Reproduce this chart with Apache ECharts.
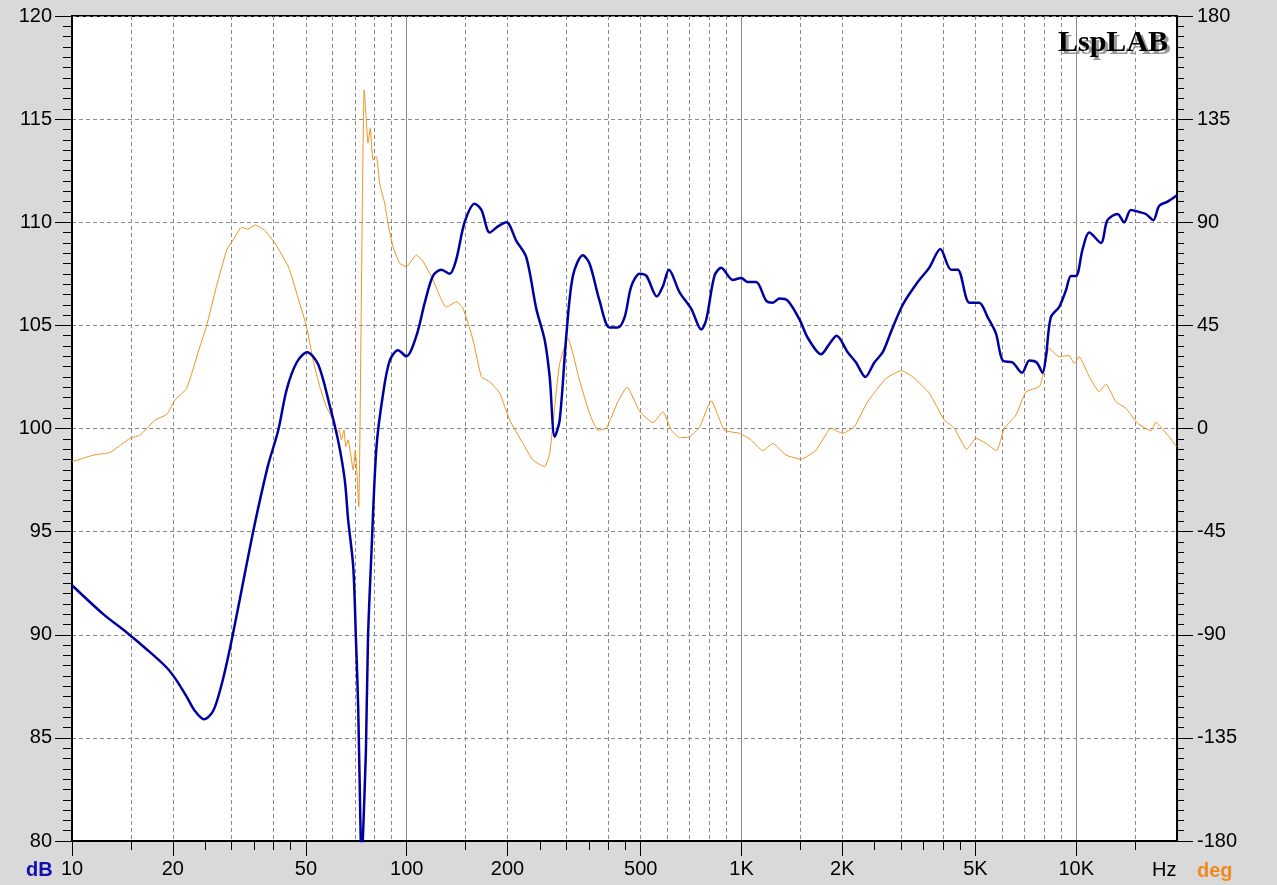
<!DOCTYPE html>
<html>
<head>
<meta charset="utf-8">
<title>LspLAB response</title>
<script src="https://cdn.jsdelivr.net/npm/echarts@6/dist/echarts.min.js"></script>
<style>
  html, body { margin: 0; padding: 0; background: #d9d9d9; }
  #chart { width: 1277px; height: 885px; }
</style>
</head>
<body>
<div id="chart"></div>
<script>
// Magnitude (dB)
var splFreq = [10, 12.4, 14.6, 16.7, 19.2, 20.5, 22, 23.3, 24.8, 26.4, 28, 29.6, 31.7, 33.6, 35.5, 38.5, 41.3, 43.8, 46.9, 50.4,
  54.4, 58.9, 62.4, 65.3, 66.8, 69.2, 70.5, 71.6, 72.8, 73.4, 73.9, 75.5, 76.6, 78.5, 81.2, 85, 89, 94.2, 99.7,
  106.9, 113.2, 119.8, 126.9, 134.3, 140.6, 148.9, 159.6, 167.1, 177, 187.3, 198.5, 212.5, 227.6, 243.8, 258.2, 267.3,
  276.7, 286.3, 299.7, 313.6, 335.8, 351.6, 376.6, 403.5, 427.4, 447.6, 468.8, 496.5, 520, 558.9, 582.4, 607.1, 653.3,
  708, 758.6, 785.3, 830.4, 869.6, 941.6, 998, 1044, 1106, 1185, 1240, 1299, 1374, 1489, 1577, 1729, 1831, 1924, 2076,
  2199, 2344, 2494, 2642, 2799, 3033, 3361, 3640, 3926, 4226, 4424, 4797, 5130, 5435, 5759, 6029, 6457, 6890, 7244,
  7622, 7931, 8120, 8400, 8897, 9316, 9645, 9985, 10450, 10937, 11847, 12397, 13280, 13903, 14555, 15410, 16140,
  16985, 17700, 18750, 19950];
var splDb = [92.4, 91.0, 90.1, 89.3, 88.4, 87.8, 87.0, 86.3, 85.9, 86.3, 87.6, 89.3, 91.7, 93.8, 95.7, 98.2, 99.9, 101.9, 103.2, 103.7,
  103.1, 101.1, 99.4, 97.5, 95.6, 93.3, 89.8, 86.5, 80.4, 78.5, 80.0, 84.3, 89.8, 94.1, 99.1, 101.7, 103.3, 103.8, 103.5,
  104.5, 106.1, 107.4, 107.7, 107.5, 108.2, 110.0, 110.9, 110.6, 109.5, 109.8, 110.0, 109.1, 108.3, 105.8, 104.3, 102.5,
  99.6, 100.4, 104.5, 107.4, 108.4, 108.0, 106.2, 104.9, 104.9, 105.4, 106.9, 107.5, 107.4, 106.4, 106.9, 107.7, 106.6,
  105.8, 104.8, 105.3, 107.4, 107.8, 107.2, 107.3, 107.1, 107.1, 106.2, 106.1, 106.3, 106.2, 105.3, 104.4, 103.6, 104.1, 104.5, 103.7,
  103.2, 102.5, 103.2, 103.7, 104.7, 106.0, 107.1, 107.8, 108.7, 107.7, 107.7, 106.1, 106.1, 105.4, 104.6, 103.3, 103.2, 102.7, 103.3,
  103.2, 102.7, 103.5, 105.4, 105.9, 106.7, 107.4, 107.4, 108.7, 109.5, 109.0, 110.1, 110.4, 110.0, 110.6, 110.5, 110.4,
  110.1, 110.8, 111.0, 111.3];

// Phase (deg)
var phaseFreq = [10, 11.6, 13, 14.9, 16, 17.7, 19.2, 20.3, 22, 24.1, 25.2, 27, 29, 30.3, 32.1, 33.5, 35.2, 37.7, 40.4, 44.3,
  47.4, 50.2, 52.5, 55, 57.5, 60.2, 61.7, 62.8, 63.8, 64.9, 65.8, 66.8, 67.9, 69.2, 70.2, 70.8, 71.9, 73, 73.7, 74.6,
  75.6, 76.6, 77.8, 79.3, 81.2,
  83, 85.9, 87.9, 91, 95.3, 99.7, 106.9, 112, 119.8, 131.2, 140.6, 147.2, 157.8, 167.1, 177, 189.5, 203, 222.3, 238.2,
  258.2, 267.3, 276.7, 286.3, 303, 328, 351.6, 372.3, 394.5, 427.4, 455, 496.5, 543.6, 582.4, 617, 653, 699.6, 749,
  812, 889, 986, 1069, 1158, 1240, 1358, 1507, 1671, 1853, 2005, 2173, 2381, 2705, 2998, 3244, 3640, 4035, 4325, 4705,
  5020, 5375, 5780, 6099, 6607, 7077, 7758, 7931, 8300, 8897, 9500, 9862, 10210, 10937, 11716, 12263, 13140, 14078,
  15240, 16710, 17300, 18100, 18950, 19950];
var phaseDeg = [-14.5, -11.6, -10.4, -4.3, -2.8, 3.7, 6.2, 12.4, 17.5, 35.7, 44.4, 61.9, 77.9, 82.3, 87.8, 87.0, 88.8, 86.3, 80.8, 70.6,
  56.8, 44.4, 29.9, 18.2, 9.5, 3.7, -2.1, -0.6, -5.0, -0.6, -7.9, -5.0, -10.8, -18.1, -9.4, -16.7, -34.1, 41.7, 99.7, 147.7,
  136, 124.5, 131, 117.2, 118.6,
  107, 98.3, 89.6, 79.3, 72.1, 70.6, 75.7, 72.8, 64.8, 52.9, 55.3, 52.5, 38.6, 22.6, 20.4, 15.4, 3.7, -6.5, -13.7,
  -16.7, -10.8, 9.5, 28.4, 39.3, 21.2, 6.6, -0.7, 0.1, 11.7, 18.1, 7.5, 2.5, 7.3, -0.7, -4.0, -3.6, 0.5,
  12.1, -0.7, -2.1, -5.0, -9.7, -6.5, -11.6, -13.4, -9.4, 0.1, -2.1, 0.8, 11.7, 21.9, 25.2, 22.6, 15.4, 3.7, 0.1, -9.1,
  -4.3, -6.5, -9.7, 0.1, 5.9, 16, 18.2, 22.6, 35, 31.3, 31.9, 28.4, 31.3, 22.6, 16, 19.4, 11.7, 8.8,
  2.3, -1.0, 2.7, -0.3, -3.6, -8];

// Frequency axis marks (Hz)
var freqMin = 10;
var freqMax = 20000;
var labelFreqs = [10, 20, 50, 100, 200, 500, 1000, 2000, 5000, 10000];
var minorTickFreqs = [15, 25, 30, 35, 40, 45, 150, 250, 300, 350, 400, 450,
  1500, 2500, 3000, 3500, 4000, 4500, 15000];
var dashedGridFreqs = [15, 20, 30, 40, 50, 60, 70, 80, 90, 150, 200, 300, 400, 500, 600, 700, 800, 900,
  1500, 2000, 3000, 4000, 5000, 6000, 7000, 8000, 9000, 15000];
var decadeFreqs = [100, 1000, 10000];

function lg(f) { return Math.log10(f); }
function pairs(xs, ys) {
  return xs.map(function(f, i) { return [lg(f), ys[i]]; });
}

var chart = echarts.init(document.getElementById('chart'), null, {renderer: 'canvas'});

var textFont = 'Liberation Sans, Arial, sans-serif';
var dashStyle = {color: '#8a8a8a', width: 1, type: [4, 3]};

function freqAxis(ticks, opts) {
  return Object.assign({
    type: 'value',
    position: 'bottom',
    min: lg(freqMin),
    max: lg(freqMax),
    axisLine: {show: false, onZero: false},
    axisTick: {show: false, customValues: ticks.map(lg)},
    axisLabel: {show: false},
    splitLine: {show: false}
  }, opts);
}

var option = {
  backgroundColor: '#d9d9d9',
  animation: false,
  grid: {
    left: 72, right: 100, top: 16, bottom: 44,
    show: true,
    backgroundColor: '#ffffff',
    borderColor: '#000000',
    borderWidth: 2
  },
  xAxis: [
    freqAxis(labelFreqs, {
      axisLine: {show: true, onZero: false, lineStyle: {color: '#000', width: 2}},
      axisTick: {show: true, length: 15, customValues: labelFreqs.map(lg), lineStyle: {color: '#000', width: 1}},
      axisLabel: {
        show: true,
        customValues: labelFreqs.map(lg),
        margin: 18,
        color: '#000',
        fontFamily: textFont,
        fontSize: 20,
        formatter: function(v) {
          var f = Math.round(Math.pow(10, v));
          return f >= 1000 ? (f / 1000) + 'K' : String(f);
        }
      }
    }),
    freqAxis(minorTickFreqs, {
      axisTick: {show: true, length: 9, customValues: minorTickFreqs.map(lg), lineStyle: {color: '#000', width: 1}}
    }),
    freqAxis(dashedGridFreqs, {
      splitLine: {show: true, lineStyle: dashStyle}
    }),
    freqAxis(decadeFreqs, {
      splitLine: {show: true, lineStyle: {color: '#8a8a8a', width: 1}}
    })
  ],
  yAxis: [
    {
      type: 'value',
      position: 'left',
      min: 80, max: 120, interval: 5,
      axisLine: {show: true, onZero: false, lineStyle: {color: '#000', width: 2}},
      axisTick: {show: true, length: 17, lineStyle: {color: '#000', width: 1}},
      minorTick: {show: true, splitNumber: 10, length: 9, lineStyle: {color: '#000', width: 1}},
      axisLabel: {margin: 20, color: '#000', fontFamily: textFont, fontSize: 20},
      splitLine: {show: true, lineStyle: dashStyle}
    },
    {
      type: 'value',
      position: 'right',
      min: -180, max: 180, interval: 45,
      axisLine: {show: true, onZero: false, lineStyle: {color: '#000', width: 2}},
      axisTick: {show: true, length: 16, lineStyle: {color: '#000', width: 1}},
      minorTick: {show: true, splitNumber: 10, length: 7, lineStyle: {color: '#000', width: 1}},
      axisLabel: {margin: 20, color: '#000', fontFamily: textFont, fontSize: 20},
      splitLine: {show: false}
    }
  ],
  series: [
    {
      name: 'Phase',
      type: 'line',
      xAxisIndex: 0,
      yAxisIndex: 1,
      data: pairs(phaseFreq, phaseDeg),
      showSymbol: false,
      smooth: 0.15,
      z: 3,
      lineStyle: {color: '#f0921e', width: 1}
    },
    {
      name: 'SPL',
      type: 'line',
      xAxisIndex: 0,
      yAxisIndex: 0,
      data: pairs(splFreq, splDb),
      showSymbol: false,
      smooth: 0.3,
      z: 4,
      lineStyle: {color: '#0000a0', width: 2.5}
    }
  ],
  graphic: [
    {type: 'text', left: 1061, top: 31, z: 10,
      style: {text: 'LspLAB', fill: '#9a9a9a', font: 'bold 30px "Liberation Serif", "Times New Roman", serif'}},
    {type: 'text', left: 1058, top: 28, z: 11,
      style: {text: 'LspLAB', fill: '#000', font: 'bold 30px "Liberation Serif", "Times New Roman", serif'}},
    {type: 'text', left: 26, top: 860, z: 10,
      style: {text: 'dB', fill: '#1010b0', font: 'bold 20px "Liberation Sans", Arial, sans-serif'}},
    {type: 'text', left: 1152, top: 860, z: 10,
      style: {text: 'Hz', fill: '#000', font: '20px "Liberation Sans", Arial, sans-serif'}},
    {type: 'text', left: 1197, top: 861, z: 10,
      style: {text: 'deg', fill: '#f08a1c', font: 'bold 20px "Liberation Sans", Arial, sans-serif'}}
  ]
};

chart.setOption(option);
</script>
</body>
</html>
